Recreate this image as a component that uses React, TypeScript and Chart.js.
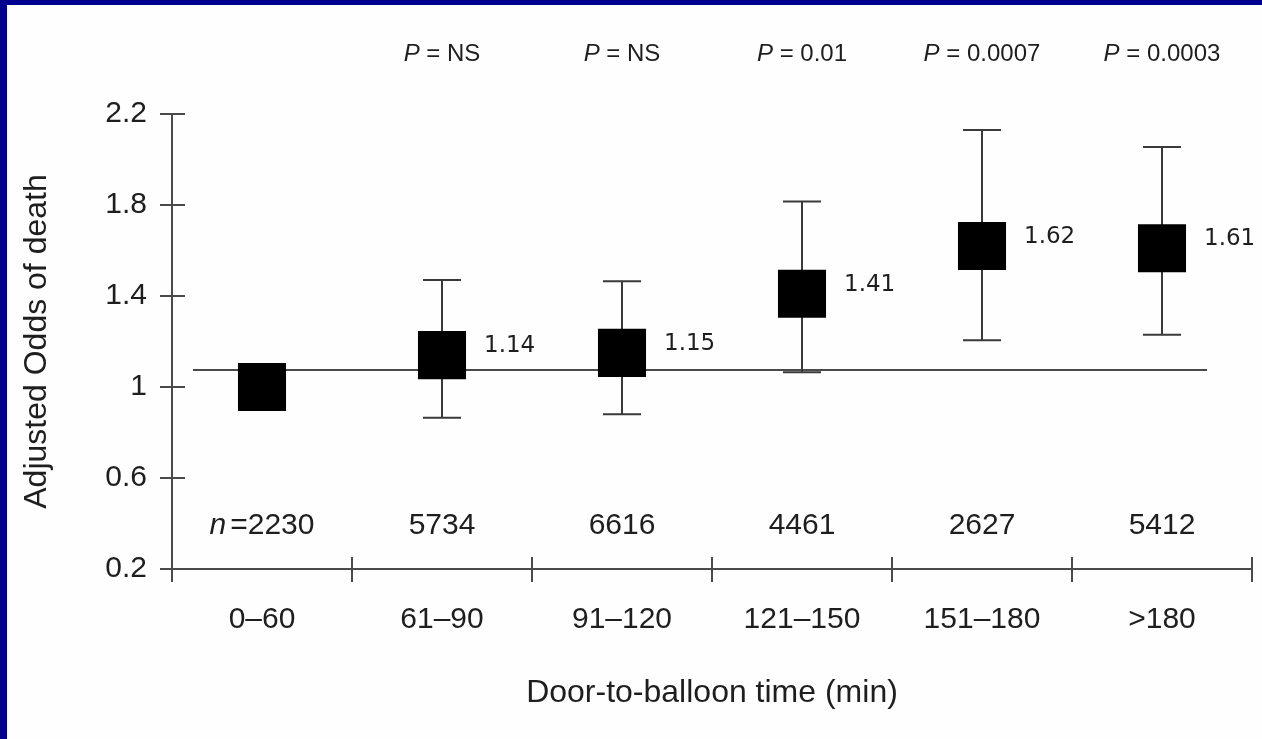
import { useEffect, useRef } from "react";
import { Chart, registerables } from "chart.js";

Chart.register(...registerables);

// ---- data ----
const categories = ["0–60", "61–90", "91–120", "121–150", "151–180", ">180"];
const oddsRatios = [1, 1.14, 1.15, 1.41, 1.62, 1.61];
const ciLower = [null, 0.865, 0.88, 1.065, 1.205, 1.23];
const ciUpper = [null, 1.47, 1.465, 1.815, 2.13, 2.055];
const valueLabels = [null, "1.14", "1.15", "1.41", "1.62", "1.61"];
const pValues = [null, "NS", "NS", "0.01", "0.0007", "0.0003"];
const sampleSizes = ["2230", "5734", "6616", "4461", "2627", "5412"];
const yTicks = [0.2, 0.6, 1, 1.4, 1.8, 2.2];
const referenceLine = 1.075;
const nLabelLevel = 0.39;

const FONT = "'Liberation Sans', Arial, Helvetica, sans-serif";
const LABEL_FONT = "'DejaVu Sans', 'Liberation Sans', sans-serif";
const TEXT = "#1e1e1e";
const LINE = "#3a3a3a";

const forestPlugin = {
  id: "forestPlugin",
  beforeDatasetsDraw(chart: any) {
    const { ctx, scales } = chart;
    const x = scales.x;
    const y = scales.y;
    ctx.save();
    // reference line
    const yr = y.getPixelForValue(referenceLine);
    ctx.strokeStyle = "#4a4a4a";
    ctx.lineWidth = 2;
    ctx.beginPath();
    ctx.moveTo(x.getPixelForValue(0) - 69, yr);
    ctx.lineTo(x.getPixelForValue(categories.length - 1) + 45, yr);
    ctx.stroke();
    // error bars
    ctx.strokeStyle = LINE;
    ctx.lineWidth = 2;
    categories.forEach((_, i) => {
      const lo = ciLower[i];
      const hi = ciUpper[i];
      if (lo == null || hi == null) return;
      const cx = x.getPixelForValue(i);
      const yl = y.getPixelForValue(lo);
      const yh = y.getPixelForValue(hi);
      ctx.beginPath();
      ctx.moveTo(cx, yl);
      ctx.lineTo(cx, yh);
      ctx.moveTo(cx - 19, yl);
      ctx.lineTo(cx + 19, yl);
      ctx.moveTo(cx - 19, yh);
      ctx.lineTo(cx + 19, yh);
      ctx.stroke();
    });
    ctx.restore();
  },
  afterDraw(chart: any) {
    const { ctx, scales, chartArea } = chart;
    const x = scales.x;
    const y = scales.y;
    ctx.save();
    ctx.strokeStyle = "#4a4a4a";
    ctx.lineWidth = 2;
    // y axis line + crossing ticks
    const left = chartArea.left;
    const bottom = y.getPixelForValue(yTicks[0]);
    ctx.beginPath();
    ctx.moveTo(left, y.getPixelForValue(yTicks[yTicks.length - 1]));
    ctx.lineTo(left, bottom + 13);
    yTicks.forEach((t) => {
      const py = y.getPixelForValue(t);
      ctx.moveTo(left - 12, py);
      ctx.lineTo(left + 13, py);
    });
    // x axis line + boundary ticks
    ctx.moveTo(left - 12, bottom);
    ctx.lineTo(chartArea.right, bottom);
    const step = x.getPixelForValue(1) - x.getPixelForValue(0);
    categories.forEach((_, i) => {
      const bx = x.getPixelForValue(i) + step / 2;
      ctx.moveTo(bx, bottom - 12);
      ctx.lineTo(bx, bottom + 13);
    });
    ctx.stroke();

    // value labels
    ctx.fillStyle = TEXT;
    ctx.font = `23px ${LABEL_FONT}`;
    ctx.textAlign = "left";
    ctx.textBaseline = "middle";
    categories.forEach((_, i) => {
      const lbl = valueLabels[i];
      if (!lbl) return;
      const cx = x.getPixelForValue(i);
      const cy = y.getPixelForValue(oddsRatios[i]);
      ctx.fillText(lbl, cx + 42, cy - 9);
    });

    // P values above plot
    const pY = chartArea.top - 60;
    categories.forEach((_, i) => {
      const pv = pValues[i];
      if (!pv) return;
      const cx = x.getPixelForValue(i);
      ctx.font = `italic 24px ${FONT}`;
      const wP = ctx.measureText("P").width;
      ctx.font = `24px ${FONT}`;
      const rest = " = " + pv;
      const wR = ctx.measureText(rest).width;
      const start = cx - (wP + wR) / 2;
      ctx.textAlign = "left";
      ctx.font = `italic 24px ${FONT}`;
      ctx.fillText("P", start, pY);
      ctx.font = `24px ${FONT}`;
      ctx.fillText(rest, start + wP, pY);
    });

    // sample sizes
    const nY = y.getPixelForValue(nLabelLevel);
    categories.forEach((_, i) => {
      const cx = x.getPixelForValue(i);
      if (i === 0) {
        ctx.font = `italic 30px ${FONT}`;
        const wn = ctx.measureText("n").width;
        ctx.font = `30px ${FONT}`;
        const rest = "=" + sampleSizes[i];
        const wr = ctx.measureText(rest).width;
        const start = cx - (wn + wr + 4) / 2;
        ctx.textAlign = "left";
        ctx.font = `italic 30px ${FONT}`;
        ctx.fillText("n", start, nY);
        ctx.font = `30px ${FONT}`;
        ctx.fillText(rest, start + wn + 4, nY);
      } else {
        ctx.font = `30px ${FONT}`;
        ctx.textAlign = "center";
        ctx.fillText(sampleSizes[i], cx, nY);
      }
    });
    ctx.restore();
  },
};

export default function App() {
  const ref = useRef<HTMLCanvasElement | null>(null);
  useEffect(() => {
    if (!ref.current) return;
    const chart = new Chart(ref.current, {
      type: "line",
      data: {
        labels: categories,
        datasets: [
          {
            data: oddsRatios,
            showLine: false,
            pointStyle: "rect",
            pointRadius: 34,
            pointHoverRadius: 34,
            pointBackgroundColor: "#000",
            pointBorderWidth: 0,
            borderColor: "#000",
            backgroundColor: "#000",
            clip: false,
          },
        ],
      },
      options: {
        responsive: false,
        animation: false,
        events: [],
        devicePixelRatio: 1,
        layout: { autoPadding: false, padding: { left: 0, top: 114, right: 10, bottom: 0 } },
        plugins: {
          legend: { display: false },
          tooltip: { enabled: false },
        },
        scales: {
          x: {
            type: "category",
            offset: true,
            grid: { display: false, drawTicks: false },
            border: { display: false },
            ticks: {
              font: { family: FONT, size: 30 },
              color: TEXT,
              padding: 33,
              maxRotation: 0,
              minRotation: 0,
              autoSkip: false,
            },
            title: {
              display: true,
              text: "Door-to-balloon time (min)",
              font: { family: FONT, size: 32 },
              color: TEXT,
              padding: { top: 0, bottom: 27 },
            },
            afterFit: (s: any) => {
              s.height = 170;
              s.paddingLeft = 0;
              s.paddingRight = 0;
            },
          },
          y: {
            type: "linear",
            min: 0.2,
            max: 2.2,
            grid: { display: false, drawTicks: false },
            border: { display: false },
            ticks: {
              stepSize: 0.4,
              font: { family: FONT, size: 30 },
              color: TEXT,
              padding: 25,
              callback: (v: any) => String(Math.round(Number(v) * 10) / 10),
            },
            title: {
              display: true,
              text: "Adjusted Odds of death",
              font: { family: FONT, size: 32 },
              color: TEXT,
              padding: { top: 18, bottom: 0 },
            },
            afterFit: (s: any) => {
              s.width = 172;
            },
          },
        },
      },
      plugins: [forestPlugin],
    } as any);
    return () => chart.destroy();
  }, []);

  return (
    <div
      style={{
        position: "fixed",
        left: 0,
        top: 0,
        width: 1262,
        height: 739,
        background: "#fefefe",
        overflow: "hidden",
      }}
    >
      <div style={{ position: "absolute", left: 0, top: 0, width: 7, height: 739, background: "#00008e" }} />
      <div style={{ position: "absolute", left: 0, top: 0, width: 1262, height: 5, background: "#00008e" }} />
      <canvas
        ref={ref}
        width={1262}
        height={739}
        style={{ position: "absolute", left: 0, top: 0, width: 1262, height: 739 }}
      />
    </div>
  );
}
